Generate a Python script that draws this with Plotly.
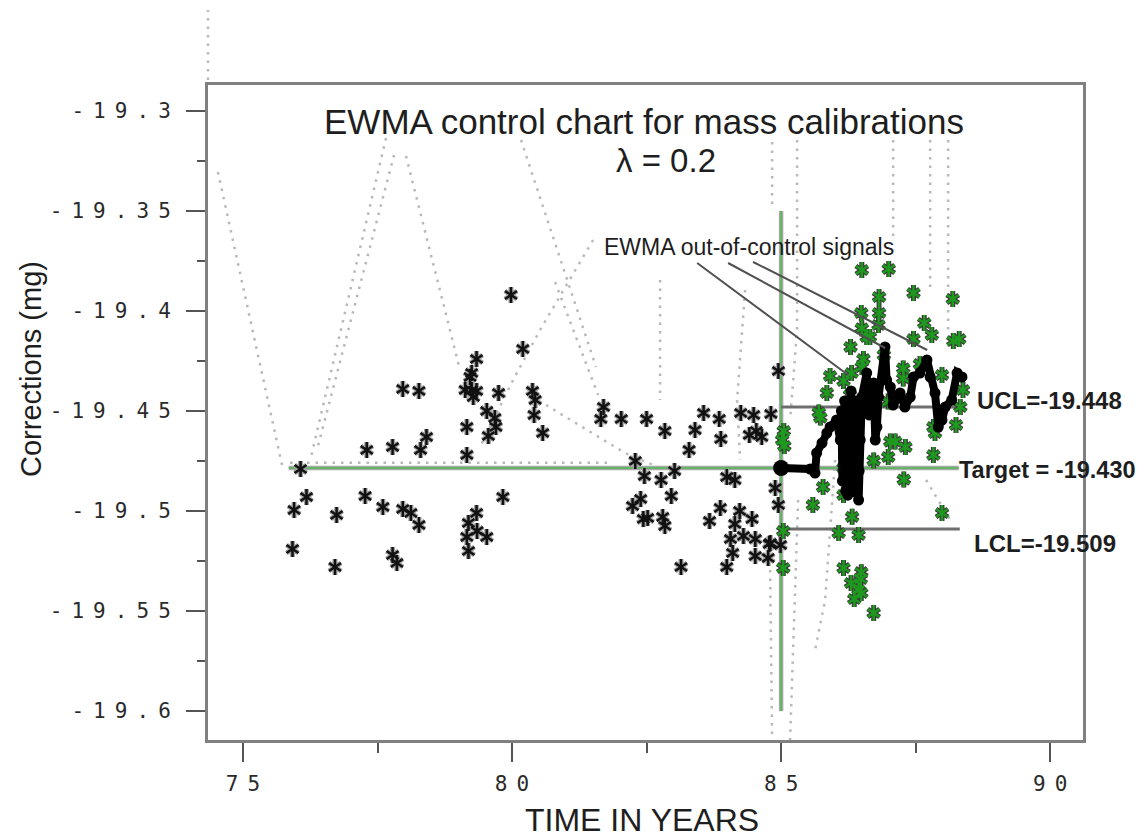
import plotly.graph_objects as go

# ---------------- data ----------------
# individual corrections before 1985 (black stars): (year, correction mg)
black_points = [
    (75.92, -19.519), (75.95, -19.4995), (76.07, -19.479), (76.18, -19.493), (76.71, -19.528),
    (76.74, -19.502), (77.27, -19.4925), (77.30, -19.4695), (77.60, -19.498), (77.78, -19.468),
    (77.78, -19.522), (77.86, -19.526), (77.97, -19.439), (77.97, -19.499), (78.12, -19.501),
    (78.27, -19.440), (78.27, -19.507), (78.30, -19.4695), (78.41, -19.463), (79.13, -19.4395),
    (79.25, -19.4395), (79.34, -19.440), (79.28, -19.443), (79.34, -19.424), (79.25, -19.431),
    (79.22, -19.433), (79.75, -19.441), (79.53, -19.450), (79.68, -19.4535), (79.70, -19.458),
    (79.56, -19.4625), (79.16, -19.458), (79.16, -19.472), (79.98, -19.392), (80.20, -19.419),
    (80.38, -19.440), (80.43, -19.4445), (80.41, -19.452), (80.57, -19.461), (79.83, -19.493),
    (79.34, -19.501), (79.19, -19.506), (79.35, -19.510), (79.16, -19.513), (79.53, -19.513),
    (79.19, -19.520), (81.70, -19.448), (81.65, -19.454), (82.03, -19.454), (82.50, -19.454),
    (82.84, -19.460), (83.40, -19.4595), (83.56, -19.451), (83.85, -19.454), (83.88, -19.464),
    (84.25, -19.451), (84.49, -19.452), (84.81, -19.4515), (84.41, -19.462), (84.54, -19.460),
    (84.64, -19.463), (83.29, -19.4695), (82.29, -19.475), (82.46, -19.4825), (82.77, -19.4845),
    (83.02, -19.480), (83.99, -19.483), (84.14, -19.4845), (82.96, -19.4925), (82.24, -19.4975),
    (82.39, -19.494), (82.44, -19.504), (82.52, -19.5035), (82.80, -19.503), (82.84, -19.5075),
    (83.87, -19.4985), (84.23, -19.500), (84.46, -19.504), (83.67, -19.505), (84.14, -19.5065),
    (84.06, -19.514), (84.30, -19.5125), (84.52, -19.514), (84.78, -19.5165), (84.10, -19.521),
    (84.52, -19.5225), (84.76, -19.5235), (83.14, -19.528), (83.99, -19.528), (84.95, -19.430),
    (84.89, -19.4885), (84.95, -19.497), (84.80, -19.516), (84.99, -19.517),
]

# individual corrections after 1985 (green stars)
green_points = [
    (86.50, -19.3795), (87.00, -19.379), (86.82, -19.393), (87.46, -19.391), (88.19, -19.394),
    (86.49, -19.401), (86.82, -19.401), (86.81, -19.407), (87.66, -19.406), (87.80, -19.412),
    (86.50, -19.4087), (86.59, -19.413), (86.65, -19.413), (87.46, -19.414), (88.20, -19.415),
    (88.31, -19.414), (86.29, -19.418), (86.91, -19.422), (86.53, -19.424), (86.50, -19.428),
    (87.58, -19.4265), (85.91, -19.4325), (86.16, -19.435), (85.85, -19.441), (87.27, -19.4287),
    (87.27, -19.4337), (87.99, -19.432), (88.38, -19.4395), (88.33, -19.448), (88.25, -19.457),
    (86.28, -19.442), (86.99, -19.4453), (85.70, -19.4507), (85.73, -19.4533), (85.05, -19.460),
    (85.02, -19.4645), (85.06, -19.4675), (87.03, -19.4653), (87.12, -19.4653), (87.31, -19.468),
    (87.86, -19.461), (87.83, -19.458), (86.72, -19.4748), (86.99, -19.473), (87.83, -19.472),
    (86.16, -19.4785), (87.28, -19.4843), (85.78, -19.488), (86.16, -19.492), (85.59, -19.497),
    (87.99, -19.501), (86.32, -19.5029), (85.04, -19.510), (86.07, -19.511), (86.44, -19.512),
    (85.04, -19.5285), (86.16, -19.5285), (86.49, -19.5306), (86.48, -19.534), (86.30, -19.536),
    (86.44, -19.5395), (86.36, -19.544), (86.49, -19.541), (86.72, -19.551), (86.31, -19.431),
]

# EWMA statistic (lambda = 0.2)
ewma_points = [
    (85.00, -19.4785), (85.54, -19.479), (85.63, -19.481), (85.66, -19.471), (85.76, -19.466),
    (85.85, -19.461), (85.91, -19.458), (86.03, -19.4545), (86.10, -19.4645), (86.12, -19.450),
    (86.14, -19.485), (86.16, -19.473), (86.18, -19.445), (86.20, -19.490), (86.22, -19.470),
    (86.24, -19.492), (86.25, -19.4795), (86.28, -19.4545), (86.30, -19.440), (86.32, -19.488),
    (86.34, -19.448), (86.36, -19.470), (86.38, -19.485), (86.40, -19.445), (86.41, -19.491),
    (86.42, -19.475), (86.44, -19.4945), (86.45, -19.480), (86.47, -19.4645), (86.50, -19.443),
    (86.59, -19.431), (86.64, -19.452), (86.68, -19.437), (86.72, -19.436), (86.75, -19.4645),
    (86.78, -19.458), (86.81, -19.443), (86.93, -19.418), (86.96, -19.4345), (87.03, -19.438),
    (87.08, -19.447), (87.12, -19.4445), (87.21, -19.441), (87.30, -19.448), (87.40, -19.443),
    (87.46, -19.433), (87.58, -19.431), (87.71, -19.4245), (87.77, -19.433), (87.86, -19.441),
    (87.92, -19.458), (87.99, -19.4545), (88.05, -19.448), (88.17, -19.4445), (88.27, -19.431),
    (88.36, -19.433),
]

TARGET = -19.4785
UCL = -19.448
LCL = -19.509
target_span = [75.85, 88.30]
limit_span = [85.0, 88.32]
split_year = 85.0
split_span = [-19.35, -19.60]

# faint dotted traces in the original graphic
dotted_paths = [
    [(74.535, -19.3305), (75.725, -19.477)],
    [(77.658, -19.3135), (76.264, -19.473)],
    [(77.807, -19.322), (76.375, -19.4695)],
    [(78.030, -19.3225), (79.033, -19.4295)],
    [(80.167, -19.3145), (81.560, -19.4280)],
    [(81.506, -19.3645), (80.520, -19.4095), (80.019, -19.4345), (79.405, -19.468)],
    [(80.632, -19.447), (82.100, -19.471), (82.844, -19.4795)],
    [(80.799, -19.3855), (81.599, -19.442)],
    [(82.751, -19.3845), (82.751, -19.4445)],
    [(75.874, -19.47585), (81.877, -19.47585)],
    [(84.331, -19.3895), (84.182, -19.4445), (84.238, -19.4745)],
    [(85.297, -19.3145), (85.297, -19.4095), (85.167, -19.4545)],
    [(84.833, -19.3155), (84.833, -19.348)],
    [(87.082, -19.3145), (87.082, -19.3645)],
    [(87.770, -19.3145), (87.770, -19.3895)],
    [(88.104, -19.3145), (88.104, -19.4095)],
    [(84.796, -19.5295), (84.833, -19.6145)],
    [(85.316, -19.4945), (85.167, -19.6145)],
    [(86.004, -19.4745), (85.818, -19.5445), (85.632, -19.5695)],
    [(87.695, -19.4845), (88.141, -19.5045)],
]

# pointer lines for "EWMA out-of-control signals"
pointer_lines = [
    [(83.44, -19.376), (86.245, -19.432)],
    [(84.015, -19.376), (86.933, -19.4185)],
    [(84.48, -19.3755), (87.714, -19.4195)],
]

y_ticks = [-19.3, -19.35, -19.4, -19.45, -19.5, -19.55, -19.6]
y_labels = ["-19.3", "-19.35", "-19.4", "-19.45", "-19.5", "-19.55", "-19.6"]
x_ticks = [75, 80, 85, 90]
x_labels = ["75", "80", "85", "90"]

# ---------------- helpers ----------------
def unzip(pts):
    return [p[0] for p in pts], [p[1] for p in pts]


def paths_to_xy(paths):
    xs, ys = [], []
    for path in paths:
        for qx, qy in path:
            xs.append(qx)
            ys.append(qy)
        xs.append(None)
        ys.append(None)
    return xs, ys


def spaced(s):
    gap = "<span style='font-size:15px'> </span>"
    return gap.join(list(s))


def star_traces(pts, outline_color, fill_color, outline_w, fill_w, size):
    xs, ys = unzip(pts)
    n = len(xs)
    sx = xs + xs
    sy = ys + ys
    sym = ["y-up-open"] * n + ["y-down-open"] * n
    out = []
    for col, w in ((outline_color, outline_w), (fill_color, fill_w)):
        out.append(go.Scatter(
            x=sx, y=sy, mode="markers", hoverinfo="skip", showlegend=False,
            marker=dict(symbol=sym, size=size, color=col, line=dict(color=col, width=w)),
        ))
    return out


fig = go.Figure()

# dotted faint lines
dx, dy = paths_to_xy(dotted_paths)
fig.add_trace(go.Scatter(x=dx, y=dy, mode="lines", hoverinfo="skip", showlegend=False,
                         line=dict(color="#b8b8b8", width=2.5, dash="2.5px,6px")))

# target line (green with grey edges)
fig.add_trace(go.Scatter(x=target_span, y=[TARGET, TARGET], mode="lines", showlegend=False,
                         hoverinfo="skip", line=dict(color="#a8a8a8", width=4.5)))
fig.add_trace(go.Scatter(x=target_span, y=[TARGET, TARGET], mode="lines", showlegend=False,
                         hoverinfo="skip", line=dict(color="#4cbb4c", width=1.5)))
# split line at 1985
fig.add_trace(go.Scatter(x=[split_year, split_year], y=split_span, mode="lines", showlegend=False,
                         hoverinfo="skip", line=dict(color="#a8a8a8", width=4.5)))
fig.add_trace(go.Scatter(x=[split_year, split_year], y=split_span, mode="lines", showlegend=False,
                         hoverinfo="skip", line=dict(color="#4cbb4c", width=1.5)))

# control limits
for lim in (UCL, LCL):
    fig.add_trace(go.Scatter(x=limit_span, y=[lim, lim], mode="lines", showlegend=False,
                             hoverinfo="skip", line=dict(color="#6e6e6e", width=3)))

# star points
for t in star_traces(black_points, "#a0a0a0", "#111111", 5, 2.5, 10):
    fig.add_trace(t)
for t in star_traces(green_points, "#3c3c3c", "#1e9a1e", 5, 2.5, 10):
    fig.add_trace(t)

# EWMA
ex, ey = unzip(ewma_points)
fig.add_trace(go.Scatter(x=ex, y=ey, mode="lines+markers", showlegend=False, hoverinfo="skip",
                         line=dict(color="#000000", width=8),
                         marker=dict(symbol="circle", size=11, color="#000000")))
fig.add_trace(go.Scatter(x=[ex[0]], y=[ey[0]], mode="markers", showlegend=False, hoverinfo="skip",
                         marker=dict(symbol="circle", size=16, color="#000000")))

# pointer lines
qx, qy = paths_to_xy(pointer_lines)
fig.add_trace(go.Scatter(x=qx, y=qy, mode="lines", showlegend=False, hoverinfo="skip",
                         line=dict(color="#505050", width=2)))

# ---------------- layout ----------------
sans = "Liberation Sans, Arial, sans-serif"
mono = "DejaVu Sans Mono, Liberation Mono, monospace"

axis_common = dict(
    showgrid=False, zeroline=False, showline=True, mirror=True,
    linecolor="#808080", linewidth=3,
    ticks="outside", ticklen=19, tickwidth=2, tickcolor="#555555",
    tickfont=dict(family=mono, size=21, color="#2a2a2a"),
)

fig.update_layout(
    width=1144, height=838,
    margin=dict(l=208, r=61, t=85, b=98),
    paper_bgcolor="white", plot_bgcolor="white",
    showlegend=False,
    xaxis=dict(range=[74.35, 90.61], tickmode="array", tickvals=x_ticks,
               ticktext=[spaced(s) for s in x_labels], ticklabelstandoff=4,
               minor=dict(tick0=75, dtick=2.5, ticks="outside", ticklen=10, tickwidth=2,
                          tickcolor="#555555", showgrid=False),
               **axis_common),
    yaxis=dict(range=[-19.6145, -19.287], tickmode="array", tickvals=y_ticks,
               ticktext=[spaced(s) for s in y_labels], ticklabelstandoff=11,
               minor=dict(tick0=-19.3, dtick=0.025, ticks="outside", ticklen=8, tickwidth=2,
                          tickcolor="#555555", showgrid=False),
               **axis_common),
)

annotations = [
    dict(text="EWMA control chart for mass calibrations", xref="paper", yref="paper",
         x=0.498, y=0.944, showarrow=False, xanchor="center", yanchor="middle",
         font=dict(family=sans, size=35, color="#1e1e1e")),
    dict(text="λ = 0.2", xref="paper", yref="paper", x=0.523, y=0.884, showarrow=False,
         xanchor="center", yanchor="middle", font=dict(family=sans, size=33, color="#1e1e1e")),
    dict(text="Corrections (mg)", xref="paper", yref="paper", x=-0.203, y=0.567, textangle=-90,
         showarrow=False, xanchor="center", yanchor="middle",
         font=dict(family=sans, size=29, color="#1e1e1e")),
    dict(text="TIME IN YEARS", xref="paper", yref="paper", x=0.496, y=-0.122, showarrow=False,
         xanchor="center", yanchor="middle", font=dict(family=sans, size=32, color="#1e1e1e")),
    dict(text="EWMA out-of-control signals", xref="x", yref="y", x=84.405, y=-19.368,
         showarrow=False, xanchor="center", yanchor="middle",
         font=dict(family=sans, size=23, color="#1e1e1e")),
    dict(text="<b>UCL=-19.448</b>", xref="x", yref="y", x=88.606, y=-19.4445, showarrow=False,
         xanchor="left", yanchor="middle", font=dict(family=sans, size=24, color="#1e1e1e")),
    dict(text="<b>Target = -19.430</b>", xref="x", yref="y", x=88.27, y=-19.4795, showarrow=False,
         xanchor="left", yanchor="middle", font=dict(family=sans, size=23.5, color="#1e1e1e")),
    dict(text="<b>LCL=-19.509</b>", xref="x", yref="y", x=88.55, y=-19.516, showarrow=False,
         xanchor="left", yanchor="middle", font=dict(family=sans, size=24, color="#1e1e1e")),
]
fig.update_layout(annotations=annotations)

# dotted marks above the frame, top-left
fig.add_shape(type="line", xref="paper", yref="paper", x0=0, x1=0, y0=1.0076, y1=1.1145,
              line=dict(color="#b8b8b8", width=2.5, dash="2.5px,6px"))

fig.write_html("out.html")
